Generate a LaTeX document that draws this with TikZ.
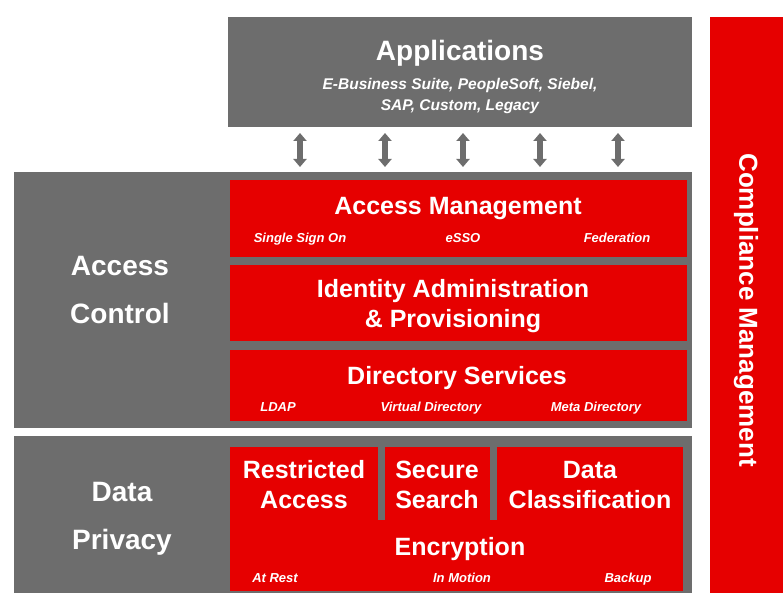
\documentclass[tikz,border=0pt]{standalone}
\usepackage{fontspec}
\setmainfont{Liberation Sans}
\usetikzlibrary{arrows.meta}
\definecolor{secred}{HTML}{E60000}
\definecolor{secgray}{HTML}{6D6D6D}
\tikzset{
  graybox/.style={fill=secgray,draw=none,inner sep=0pt,anchor=north west},
  redbox/.style={fill=secred,draw=none,inner sep=0pt,anchor=north west},
  headtxt/.style={text=white,font=\bfseries\fontsize{25}{30}\selectfont,align=center,inner sep=0pt},
  bigtxt/.style={text=white,font=\bfseries\fontsize{28}{48}\selectfont,align=center,inner sep=0pt},
  subtxt/.style={text=white,font=\bfseries\itshape\fontsize{13}{16}\selectfont,inner sep=0pt,anchor=base},
  duplex/.style={secgray,line width=6pt,{Triangle[width=13pt,length=8pt]}-{Triangle[width=13pt,length=8pt]}}
}
\begin{document}
\begin{tikzpicture}[x=1pt,y=-1pt]
\useasboundingbox (0,0) rectangle (783,593);
% frames
\node[graybox,minimum width=464pt,minimum height=110pt] (apps) at (228,17) {};
\node[graybox,minimum width=678pt,minimum height=256pt] (ac) at (14,172) {};
\node[graybox,minimum width=678pt,minimum height=157pt] (dp) at (14,436) {};
\node[redbox,minimum width=73pt,minimum height=576pt] (cm) at (710,17) {};
% access control layers
\node[redbox,minimum width=457pt,minimum height=77pt] (am) at (230,180) {};
\node[redbox,minimum width=457pt,minimum height=76pt] (ia) at (230,265) {};
\node[redbox,minimum width=457pt,minimum height=71pt] (ds) at (230,350) {};
% data privacy layers
\node[redbox,minimum width=148pt,minimum height=75pt] (ra) at (230,447) {};
\node[redbox,minimum width=105pt,minimum height=75pt] (ss) at (385,447) {};
\node[redbox,minimum width=186pt,minimum height=75pt] (dc) at (497,447) {};
\node[redbox,minimum width=453pt,minimum height=71pt] (en) at (230,520) {};
% texts
\node[text=white,font=\bfseries\fontsize{28}{32}\selectfont,inner sep=0pt] (appst) at (460,53) {Applications};
\node[subtxt,font=\bfseries\itshape\fontsize{15.5}{21}\selectfont,align=center,anchor=center] (appss) at (460,96) {E-Business Suite, PeopleSoft, Siebel,\\SAP, Custom, Legacy};
\node[bigtxt] (act) at (120,290) {Access\\Control};
\node[bigtxt] (dpt) at (122,519) {Data\\Privacy};
\node[text=white,font=\bfseries\fontsize{26}{30}\selectfont,inner sep=0pt,rotate=-90] (cmt) at (746,310) {Compliance Management};
\node[headtxt] (amt) at (458,209) {Access Management};
\node[subtxt] (am1) at (300,243) {Single Sign On};
\node[subtxt] (am2) at (463,243) {eSSO};
\node[subtxt] (am3) at (617,243) {Federation};
\node[headtxt] (iat) at (453,306) {Identity Administration\\\& Provisioning};
\node[headtxt] (dst) at (457,378) {Directory Services};
\node[subtxt] (ds1) at (278,411) {LDAP};
\node[subtxt] (ds2) at (431,411) {Virtual Directory};
\node[subtxt] (ds3) at (596,411) {Meta Directory};
\node[headtxt] (rat) at (304,485) {Restricted\\Access};
\node[headtxt] (sst) at (437,485) {Secure\\Search};
\node[headtxt] (dct) at (590,485) {Data\\Classification};
\node[headtxt] (ent) at (460,549) {Encryption};
\node[subtxt] (en1) at (275,582) {At Rest};
\node[subtxt] (en2) at (462,582) {In Motion};
\node[subtxt] (en3) at (628,582) {Backup};
% links apps <-> access control
\foreach \x [count=\i] in {300,385,463,540,618}{
  \coordinate (up\i) at (\x,133);%apps side
  \coordinate (dn\i) at (\x,167);%access side
  \draw[duplex] (up\i) -- (dn\i);
}
\end{tikzpicture}
\end{document}
